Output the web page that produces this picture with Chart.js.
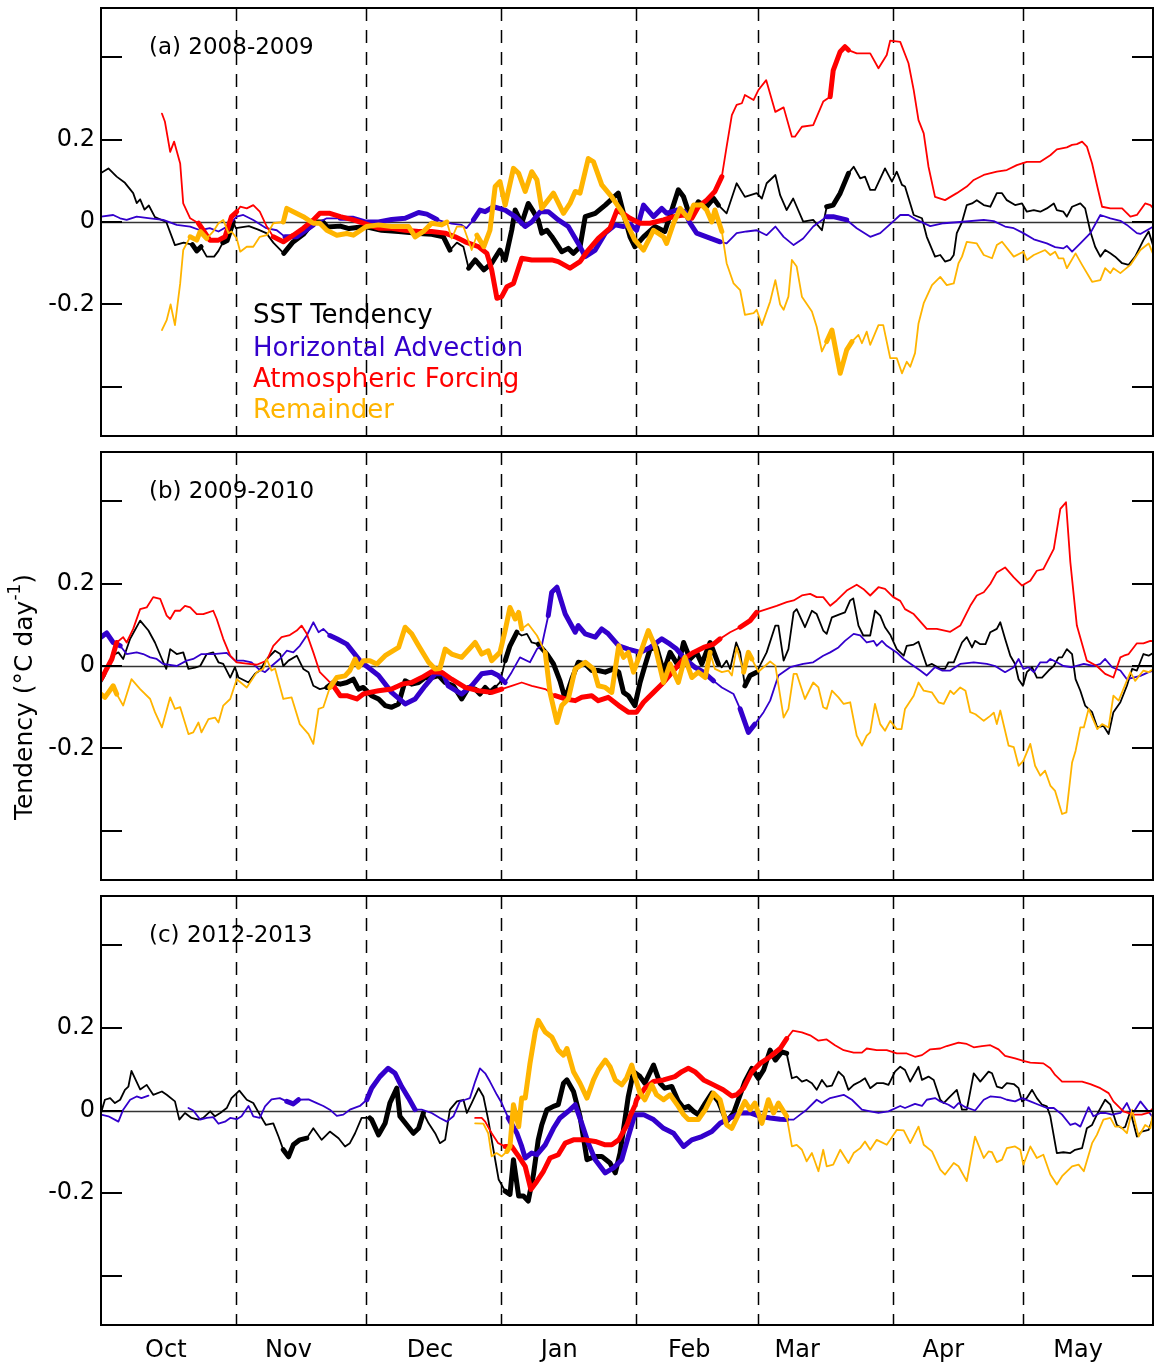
<!DOCTYPE html>
<html>
<head>
<meta charset="utf-8">
<script src="https://cdn.jsdelivr.net/npm/chart.js@4/dist/chart.umd.min.js"></script>
<style>
  body { margin: 0; background: #fff; }
  #wrap { position: relative; width: 1154px; height: 1369px; }
  canvas { position: absolute; left: 0; }
</style>
</head>
<body>
<div id="wrap">
  <canvas id="panelA" width="1154" height="444" style="top:0px"></canvas>
  <canvas id="panelB" width="1154" height="444" style="top:444px"></canvas>
  <canvas id="panelC" width="1154" height="481" style="top:888px"></canvas>
</div>
<script>
// days counted from 1 October, values in degC/day
const monthNames = ['Oct', 'Nov', 'Dec', 'Jan', 'Feb', 'Mar', 'Apr', 'May']
const monthLabelDays = [14.9, 43.1, 75.6, 105.3, 135.2, 160, 193.6, 224.6]
const monthStartDays = [31, 61, 92, 123, 151, 182, 212]
const yTickValues = [-0.4, -0.2, 0, 0.2, 0.4]
const seriesNames = ['SST Tendency', 'Horizontal Advection', 'Atmospheric Forcing', 'Remainder']

// ---- 2008-2009 ----
const sstA = [[0,.119],[1.7,.13],[3.6,.11],[5.5,.095],[7.4,.07],[8.2,.046],[9,.055],[10,.03],[11,.04],[12.4,.012],[15,0],[17,-.056],[19,-.05],[21,-.055],[22,-.07],[23,-.06],[24.3,-.084],[26,-.084],[27,-.07],[28,-.05],[29,-.045],[30.4,0],[31,-.015],[34,-.01],[36,-.018],[38,-.027],[39.6,-.05],[42,-.076],[44,-.05],[46.5,-.03],[48.8,0],[51,0],[52,-.012],[55,-.01],[57,-.016],[60.7,-.011],[64.5,-.02],[68.4,-.023],[72.2,-.027],[76,-.03],[78.7,-.036],[80.2,-.068],[81.8,-.05],[83.3,-.06],[84.5,-.112],[86,-.092],[88,-.116],[89.8,-.1],[91.7,-.068],[92.9,-.092],[94.4,-.02],[95.2,.029],[96.7,-.003],[98.2,.045],[99.4,.025],[100.5,.005],[101.3,-.027],[102.5,-.02],[103.6,-.035],[105.9,-.072],[107.4,-.064],[108.6,-.076],[110.1,-.06],[111.3,.013],[113.6,.021],[115.9,.041],[118.9,.07],[120.1,.021],[121.6,-.036],[122.7,-.06],[124.7,-.036],[127.3,-.011],[129.6,-.023],[131.2,.029],[132.7,.078],[133.9,.061],[135.4,.013],[137.3,.049],[139.2,.037],[140.8,.057],[141.9,.041],[143.8,.021],[146.1,.094],[148,.061],[150.7,.07],[151.9,.057],[153,.094],[155,.114],[156.1,.065],[157.6,.029],[159.1,.057],[161.4,.001],[163.7,.005],[165.7,-.02],[166.8,.037],[168.3,.041],[169.9,.07],[171.8,.118],[173,.134],[174.5,.106],[175.6,.11],[176.8,.078],[177.9,.078],[180.2,.13],[181.8,.098],[182.9,.122],[184.1,.09],[184.8,.086],[186.8,.017],[188.7,.009],[189.8,-.036],[191.7,-.084],[192.9,-.08],[194,-.096],[195.2,-.092],[196,-.08],[196.7,-.027],[197.9,0],[199,.041],[200.2,.045],[201.3,.053],[202.9,.041],[204.4,.037],[205.9,.07],[207.1,.07],[208.2,.053],[210.1,.041],[211.7,.045],[212.8,.025],[214.4,.029],[215.9,.025],[217.4,.033],[219,.045],[219.7,.029],[221.2,.025],[222,.013],[223.2,.037],[225.1,.045],[226.2,.033],[227.4,-.023],[228.5,-.06],[229.7,-.084],[230.8,-.068],[232,-.076],[233.1,-.084],[234.7,-.1],[236.2,-.104],[237.7,-.084],[239.6,-.044],[240.8,-.023],[241.9,-.06]]
const advA = [[0,.013],[2.8,.017],[4.4,.009],[5.9,.005],[8.2,.013],[11.3,.009],[14.3,.005],[17.4,-.007],[20.5,-.011],[22.8,-.02],[25,-.015],[27,-.023],[29,-.011],[31.2,.013],[32.7,.017],[35,.005],[38,-.015],[40.4,-.02],[42.3,-.036],[45,-.036],[48.8,-.007],[51.9,.009],[55,.009],[58,.009],[60.7,0],[63.8,0],[66.8,.006],[69.9,.009],[73,.023],[74.9,.019],[77.2,.006],[79.1,0],[80.6,-.004],[82.9,-.007],[84,-.015],[85.6,.005],[87.1,.029],[88.3,.025],[90.2,.037],[92.9,.029],[95.2,.013],[97.5,-.011],[99,0],[101,.025],[102.8,.025],[105.1,.005],[107.4,-.011],[109.7,-.052],[111.3,-.084],[113.6,-.068],[115.9,-.027],[118.2,-.007],[120.1,-.011],[121.6,-.005],[123.1,-.02],[124.7,.041],[127,.013],[128.9,.033],[130,.021],[132.3,.029],[134.2,.025],[135.4,-.003],[136.9,-.027],[139.2,-.036],[142.3,-.048],[143.8,-.052],[146.1,-.027],[148.4,-.023],[150.7,-.02],[153,-.032],[155,-.011],[156.9,-.036],[159.2,-.056],[161.4,-.04],[163.7,-.011],[166.8,.013],[168.3,.013],[171.4,.005],[173.7,-.015],[176.8,-.036],[179.1,-.027],[181.4,-.005],[183.7,.017],[185.6,.017],[187.5,.005],[190.6,-.01],[193.7,-.003],[197.5,0],[202.9,.005],[205.2,.002],[207.8,-.011],[209.8,-.015],[212,-.027],[214.4,-.042],[217.4,-.052],[219.3,-.061],[221.2,-.064],[222,-.058],[223.2,-.072],[225.1,-.052],[227.4,-.027],[229.7,.017],[232,.009],[234.3,.003],[235.8,-.007],[238.1,-.027],[238.9,-.029],[240.4,-.02],[241.9,-.011]]
const atmA = [[14,.263],[14.7,.243],[15.9,.17],[16.8,.195],[18.2,.142],[18.9,.045],[20.5,.009],[22.4,-.003],[23.5,-.02],[25,-.044],[27,-.044],[28.5,-.036],[30,.013],[31.2,.025],[32,.037],[33.5,.033],[35,.041],[36.5,.025],[38.1,-.011],[39.6,-.036],[41.9,-.048],[44.2,-.032],[46.5,-.015],[48.8,.005],[50.3,.021],[52.6,.021],[55,.013],[58,.005],[61,-.005],[63.8,-.015],[66.8,-.015],[69.9,-.02],[73,-.023],[76,-.023],[79.1,-.027],[81.4,-.036],[83.7,-.048],[86.8,-.06],[88.7,-.076],[89.8,-.116],[91,-.185],[92.1,-.181],[93.3,-.157],[94.8,-.149],[96.7,-.088],[99,-.092],[101.3,-.092],[103.6,-.092],[105.1,-.096],[107.8,-.112],[110.1,-.096],[112,-.068],[114.3,-.04],[117,-.015],[118.6,.029],[120.5,.017],[121.6,.009],[123.9,-.003],[126.2,-.003],[129.3,.005],[131.6,.013],[133.9,.017],[135.8,.009],[137.3,.037],[139.2,.053],[141.1,.074],[142.7,.11],[143.8,.183],[145,.259],[146.1,.284],[147.3,.288],[148,.308],[150,.296],[151.1,.32],[152.9,.344],[155,.267],[156.9,.278],[158.8,.207],[159.5,.207],[161.1,.231],[163.7,.235],[166,.292],[167.6,.304],[168.3,.368],[169.9,.413],[171,.425],[171.8,.417],[173.7,.409],[176.8,.409],[178.7,.373],[180.6,.405],[181.4,.44],[183.7,.437],[185.6,.385],[186.8,.32],[187.9,.247],[189.1,.215],[190.2,.134],[191.7,.061],[194,.053],[196.7,.07],[199,.086],[200.6,.102],[202.9,.114],[205.9,.122],[208.2,.126],[210.5,.138],[212.8,.146],[215.9,.146],[218.2,.162],[219.7,.176],[222,.181],[223.2,.187],[224.3,.189],[225.5,.195],[226.6,.183],[227.8,.142],[229,.086],[230.1,.037],[232,.033],[234.7,.033],[236.6,.013],[238.1,.017],[240,.045],[241.2,.041],[241.9,.033]]
const remA = [[14,-.262],[15.1,-.238],[16,-.2],[17,-.25],[18.2,-.149],[18.9,-.068],[20.5,-.036],[22,-.044],[22.8,-.023],[24.3,-.04],[25.8,-.023],[27,-.003],[28.1,.005],[29.3,-.027],[30,-.023],[31.2,-.04],[32,-.072],[33.5,-.06],[35,-.06],[36.5,-.036],[38.1,-.032],[39.6,-.003],[41.9,0],[42.7,.033],[44.2,.025],[46.5,.013],[48.8,-.003],[50.3,-.003],[51.9,-.02],[54.2,-.032],[56.5,-.028],[58,-.032],[61,-.011],[63.8,-.007],[66.8,-.011],[70.7,-.011],[72.2,-.036],[74.1,-.023],[76,-.003],[78.3,-.007],[79.5,0],[80.6,-.04],[81.8,-.011],[83.3,-.011],[85.2,-.068],[86.4,-.032],[88,-.06],[89.4,-.02],[90.6,.086],[91.7,.098],[92.9,.041],[94.8,.13],[96,.118],[97.5,.074],[99,.122],[100.2,.102],[101.3,.033],[104,.07],[106.3,.021],[107.8,.045],[109,.074],[110.1,.07],[112,.154],[113.2,.146],[115.1,.09],[117.4,.061],[119.7,.025],[121.2,-.011],[122.7,-.044],[124.7,-.068],[127,-.02],[129.3,-.036],[130,-.052],[131.6,-.003],[133.1,.033],[135,.009],[136.2,.041],[138.1,.041],[139.2,.029],[140.4,0],[141.1,.029],[142.7,-.023],[143.8,-.1],[145.4,-.149],[146.9,-.165],[148,-.225],[150,-.221],[150.7,-.213],[151.9,-.25],[153.8,-.193],[155,-.141],[156.1,-.2],[156.9,-.213],[158,-.181],[158.8,-.092],[159.9,-.108],[161.1,-.181],[163.4,-.217],[164.5,-.254],[165.7,-.314],[166.8,-.29],[168,-.262],[169.9,-.367],[171.4,-.31],[172.6,-.29],[174.1,-.274],[174.9,-.294],[176,-.266],[176.8,-.298],[178.7,-.25],[179.8,-.25],[181.4,-.33],[182.9,-.33],[184.1,-.367],[185.2,-.339],[186,-.351],[187.1,-.318],[187.9,-.246],[189.1,-.197],[191,-.153],[192.9,-.133],[194.4,-.153],[196,-.149],[197.1,-.1],[197.9,-.084],[199,-.048],[201.3,-.052],[202.9,-.08],[204.8,-.088],[205.9,-.056],[207.1,-.048],[209.8,-.084],[212,-.072],[212.8,-.092],[214.4,-.08],[217,-.068],[218.2,-.08],[219.3,-.072],[220.1,-.088],[221.2,-.088],[222,-.112],[224,-.076],[225.5,-.104],[227.8,-.145],[229.7,-.141],[230.8,-.112],[232,-.124],[232.7,-.112],[234.3,-.124],[236.6,-.104],[238.9,-.068],[240.8,-.052],[241.9,-.08]]

// ---- 2009-2010 ----
const sstB = [[0,-.04],[0.9,-.023],[2.5,.025],[4,.033],[5.1,.017],[6.7,.066],[9,.11],[10.9,.086],[12.4,.057],[14,.017],[15,-.007],[15.9,.041],[17.4,.029],[18.9,.033],[20.1,-.007],[21.6,-.004],[22.8,0],[24.3,.029],[25.8,.033],[27,.009],[28.1,.005],[29.7,-.028],[30.8,-.003],[31.6,-.028],[33.9,-.04],[35.4,-.019],[36.5,-.011],[38.1,.017],[40,.037],[41.2,.029],[41.9,0],[43.1,.013],[45,.025],[46.5,-.007],[47.7,-.015],[48.8,-.048],[50.3,-.056],[51.9,-.052],[53.4,-.04],[55,-.044],[56.5,-.04],[58,-.032],[59.2,-.056],[60.3,-.052],[62.2,-.072],[63.8,-.08],[65.3,-.096],[66.8,-.1],[68.4,-.092],[69.9,-.036],[71.4,-.044],[73,-.04],[74.5,-.028],[76,-.028],[77.6,-.023],[79.1,-.04],[81,-.048],[82.9,-.08],[84.5,-.052],[86,-.056],[87.1,-.068],[88.3,-.052],[89.4,-.064],[90.6,-.052],[91.7,-.04],[92.9,.013],[94,.049],[95.6,.082],[96.7,.074],[97.9,.078],[99,.057],[100.5,.053],[102.5,.029],[104,.005],[105.5,-.036],[106.7,-.08],[108.2,-.032],[109.7,.009],[111.3,.005],[112.8,-.011],[114.3,-.011],[115.9,-.015],[117.8,-.007],[119,-.015],[120.1,-.064],[121.2,-.072],[122.7,-.096],[123.9,-.04],[125,0],[126.2,.041],[127.7,.045],[129.3,-.015],[130.8,.033],[132.7,0],[133.9,.057],[135.4,.017],[136.9,.033],[138.1,.005],[140,.057],[141.9,.005],[142.7,-.003],[143.8,.013],[144.6,-.007],[146,.057],[146.9,.033],[148,-.048],[149.2,-.023],[150.7,-.015],[153,.033],[155,.098],[155.7,.098],[156.9,.013],[158,.041],[159.2,.13],[159.9,.138],[161.8,.094],[163.4,.134],[164.5,.126],[166,.086],[166.8,.078],[168,.118],[169.9,.126],[171,.13],[172.2,.159],[172.9,.164],[174.1,.098],[175.2,.074],[176.8,.074],[177.9,.134],[179.1,.122],[180.2,.094],[181.4,.076],[182.9,.041],[184.5,.025],[185.2,.049],[186.8,.052],[187.9,.059],[189.8,0],[191,.005],[192.9,-.007],[194,-.007],[194.8,.009],[196,.009],[197.9,.057],[199,.07],[200.2,.045],[200.9,.061],[202.1,.053],[203.3,.053],[204.4,.082],[205.9,.09],[206.7,.106],[207.8,.066],[209,.025],[210.1,.005],[210.9,-.032],[211.9,-.048],[212.8,-.015],[214,-.003],[215.1,-.028],[216.3,-.028],[217.8,-.011],[219,0],[220.1,.021],[220.9,.021],[222,.041],[223.2,.029],[224,-.032],[225.1,-.06],[226.2,-.096],[227.8,-.112],[229,-.149],[230.4,-.145],[231.6,-.165],[232.7,-.112],[234.3,-.088],[235.8,-.048],[237,-.007],[238.1,-.011],[239.6,.029],[240.8,.025],[241.9,.032]]
const advB = [[0,.07],[1.3,.08],[2.8,.057],[4.4,.049],[5.9,.029],[8.2,.033],[9.7,.029],[11.3,.021],[12.8,.017],[14.3,.005],[17.4,0],[19.7,.013],[21.2,.017],[23.1,.029],[25.8,.029],[28.9,.032],[30.8,.013],[32.7,.013],[34.6,.009],[36.2,-.007],[37.7,-.015],[39.2,0],[41.1,.017],[42.7,.037],[44.2,.033],[45.7,.049],[47.3,.074],[48.8,.106],[50,.082],[51.1,.09],[52.6,.074],[54.2,.066],[56.5,.053],[58,.033],[59.5,.013],[61,0],[63.8,-.023],[66.8,-.064],[69.9,-.092],[72.2,-.08],[74.5,-.048],[76.8,-.019],[78.7,-.019],[79.8,-.048],[82.9,-.068],[85.2,-.048],[87.5,-.019],[89.8,-.015],[91.3,-.023],[92.9,-.04],[94.4,-.015],[96.3,.021],[98.6,.009],[100.2,.041],[101.3,.049],[102.8,.122],[103.6,.179],[104.8,.191],[106.7,.126],[109,.082],[109.7,.098],[111.3,.078],[113.6,.07],[115.1,.09],[116.6,.078],[119,.049],[121.2,.041],[123.9,.033],[126.2,.045],[128.9,.066],[130.8,.053],[132.3,.041],[134.2,.017],[136.5,-.003],[138.5,-.015],[140.8,-.036],[142.7,-.052],[145.4,-.068],[146.9,-.104],[148.8,-.161],[150.3,-.141],[152.3,-.112],[153.8,-.084],[155.7,-.023],[158.4,-.003],[161.4,.005],[163.7,.009],[166,.025],[167.6,.033],[169.5,.045],[171,.061],[173,.078],[174.5,.074],[176,.057],[177.6,.061],[178.3,.049],[179.5,.061],[180.6,.049],[182.9,.033],[184.5,.017],[186.8,0],[188.3,-.011],[189.8,-.023],[191.7,-.003],[193.3,-.011],[195.2,-.011],[197.5,.005],[200.6,.009],[203.6,.005],[205.5,0],[207.8,-.015],[209.8,-.003],[210.9,.017],[212,-.007],[213.2,-.003],[214.4,-.015],[215.9,.009],[217.4,.009],[218.2,.017],[219.7,.009],[221.2,0],[223.2,-.003],[225.9,.005],[228.1,0],[229.7,.005],[230.8,.017],[232.4,-.003],[234.3,-.011],[235.8,-.032],[237.3,-.028],[238.9,-.024],[240.8,-.015],[241.9,-.011]]
const atmB = [[0,-.032],[0.9,-.015],[2.5,.017],[3.6,.057],[5.1,.07],[5.9,.057],[7.4,.09],[9,.138],[10.5,.142],[12,.167],[13.6,.163],[15.1,.122],[15.9,.114],[17,.134],[18.2,.134],[19.3,.146],[20.5,.142],[22,.126],[23.5,.126],[24.7,.13],[25.8,.134],[26.6,.114],[28.1,.066],[29.7,.025],[31.2,.009],[33.5,.006],[35.8,.003],[38.1,.013],[39.6,.049],[41.5,.07],[43.4,.075],[45,.086],[46.1,.098],[47.3,.078],[48.8,.033],[50.3,-.015],[51.9,-.032],[53.4,-.048],[55,-.072],[56.5,-.072],[58.8,-.08],[60.3,-.068],[61.8,-.064],[63.8,-.06],[66.8,-.056],[69.2,-.044],[71.4,-.04],[73.7,-.028],[76,-.014],[78.3,-.015],[80.6,-.032],[83.7,-.052],[86.8,-.06],[89.8,-.064],[92.1,-.056],[94.4,-.048],[96.7,-.04],[99,-.048],[102.1,-.056],[104.4,-.072],[106.7,-.08],[109,-.084],[110.5,-.076],[112.8,-.072],[114.3,-.084],[116.6,-.076],[119,-.096],[121.2,-.112],[123.1,-.112],[124.7,-.088],[127,-.064],[129.3,-.04],[131.6,-.011],[133.9,.017],[136.2,.033],[138.5,.045],[140.8,.053],[142.3,.066],[144.6,.082],[146.9,.094],[149.2,.11],[150.7,.13],[153,.138],[155.3,.146],[157.6,.155],[159.2,.159],[161.1,.171],[163,.175],[164.5,.167],[166,.167],[167.6,.146],[169.1,.159],[171.4,.183],[173.7,.197],[175.2,.187],[176.8,.171],[178.7,.191],[180.2,.187],[182.1,.167],[183.7,.158],[184.8,.138],[186.8,.126],[189.8,.09],[192.1,.09],[195.2,.083],[197.5,.098],[199.8,.146],[201.3,.171],[202.9,.179],[204.4,.199],[205.9,.227],[207.8,.239],[209.8,.215],[211.7,.195],[213.6,.207],[215.1,.231],[216.6,.235],[219,.284],[220.5,.381],[221.8,.397],[222.8,.252],[224.3,.098],[226.6,.013],[228.9,0],[230.8,-.019],[232.7,-.028],[234.3,.021],[235.1,.025],[236.2,.029],[238.1,.055],[239.6,.055],[241.2,.061],[241.9,.06]]
const remB = [[0,-.068],[0.9,-.076],[2.8,-.048],[3.6,-.068],[5.1,-.096],[7,-.032],[9,-.056],[11.3,-.08],[12.4,-.112],[14,-.149],[15.9,-.076],[17,-.104],[18.2,-.1],[20.1,-.165],[21.2,-.161],[22.4,-.137],[23.1,-.161],[24.7,-.129],[26.2,-.125],[27,-.137],[28.1,-.096],[29.7,-.08],[31.2,-.032],[33.5,-.052],[35.8,-.015],[37.3,-.007],[38.1,.017],[39.2,-.011],[40,-.006],[41.9,-.08],[43.8,-.076],[45.7,-.141],[47.7,-.165],[48.8,-.189],[50,-.104],[51.1,-.1],[52.6,-.052],[54.2,-.028],[56.1,-.024],[57.2,-.011],[58.4,.017],[59.2,-.003],[60.3,.013],[61.8,.013],[63.4,.005],[65.3,.025],[68.4,.045],[69.9,.094],[71.4,.078],[73,.049],[75.3,.009],[76.8,-.007],[77.9,-.006],[79.1,.041],[80.6,.029],[82.9,.021],[86,.057],[87.5,.029],[89,.037],[89.8,.013],[91.7,.033],[92.9,.086],[94,.142],[95.2,.114],[96,.13],[96.7,.09],[98.2,.102],[100.2,.074],[102.1,.033],[103.2,-.064],[104.8,-.137],[105.9,-.096],[107.4,-.08],[109,-.007],[111.3,.009],[113.2,-.007],[114.3,-.048],[115.9,-.052],[117.4,-.064],[119,.049],[120.1,.021],[121.2,.033],[122.4,-.015],[124.3,.041],[125.8,.086],[127.3,.049],[129.3,-.04],[130.8,.005],[132.7,-.04],[134.2,.021],[135.8,-.028],[137.3,-.015],[138.9,-.028],[140,.033],[141.1,-.007],[142.7,-.015],[144.2,-.011],[145,-.023],[146.1,.045],[147.7,-.015],[148.8,.033],[149.6,.017],[151.1,-.014],[153.8,.011],[155,.001],[156.9,-.125],[158,-.104],[159.2,-.019],[159.9,-.019],[161.8,-.08],[163.7,-.04],[164.9,-.052],[166,-.1],[166.8,-.104],[168,-.06],[169.5,-.076],[170.7,-.092],[172.2,-.088],[173.7,-.169],[174.9,-.193],[176,-.169],[176.8,-.161],[177.9,-.092],[179.1,-.141],[180.2,-.157],[181.4,-.133],[182.9,-.153],[184,-.153],[184.8,-.104],[186.8,-.072],[187.9,-.04],[189.1,-.06],[191,-.064],[192.5,-.088],[193.7,-.092],[195.2,-.06],[196,-.068],[197.5,-.052],[198.7,-.06],[199.8,-.112],[201,-.117],[202.9,-.133],[204.4,-.121],[205.2,-.113],[205.9,-.141],[206.7,-.108],[208.6,-.193],[209.8,-.197],[210.9,-.242],[212,-.23],[213.6,-.189],[214.7,-.242],[215.9,-.266],[217,-.254],[218.2,-.29],[219.3,-.303],[220.9,-.359],[221.9,-.355],[223.2,-.234],[224,-.206],[225.1,-.149],[225.9,-.149],[227,-.104],[229,-.153],[230.1,-.141],[231.6,-.149],[232.7,-.072],[233.9,-.084],[236.6,-.015],[237.7,-.036],[239.6,-.011],[240.8,-.015],[241.9,-.007]]

// ---- 2012-2013 ----
const sstC = [[0,-.006],[0.9,.026],[2.1,.03],[3.2,.018],[4.4,.026],[5.5,.05],[6.3,.058],[7,.096],[9,.051],[10.5,.062],[12,.038],[14,.046],[15.1,.038],[17,.022],[18,-.022],[19.3,-.006],[20.8,-.018],[22.4,-.022],[23.5,-.018],[25.1,-.002],[26.2,-.014],[27.4,-.006],[28.9,.006],[30,.03],[31.8,.048],[33.5,.026],[35,.018],[36.5,-.01],[37.9,-.035],[39.6,-.031],[40.8,-.063],[41.9,-.095],[43.1,-.112],[44.2,-.083],[45.7,-.071],[47.3,-.067],[48.8,-.043],[50.7,-.071],[52.6,-.051],[54.6,-.067],[56.1,-.087],[57.2,-.079],[58.4,-.055],[59.9,-.018],[61.8,-.018],[62.2,-.022],[63.8,-.059],[65.3,-.031],[66.4,.018],[68,.054],[68.7,-.014],[70.3,-.035],[71.8,-.055],[73,-.043],[74.1,-.006],[75.3,-.031],[76.8,-.055],[77.9,-.079],[79.1,-.071],[80.2,.002],[81.8,.022],[83.3,.026],[84.1,-.006],[85.2,.018],[86.8,.054],[87.9,.034],[89,-.022],[90.2,-.095],[91.4,-.167],[92.9,-.195],[94,-.203],[94.8,-.119],[96,-.207],[97.1,-.207],[98.2,-.219],[99.4,-.155],[100.5,-.071],[101.3,-.035],[102.5,.002],[104,.01],[105.1,.014],[106.3,.066],[107.1,.074],[108.6,.046],[110.1,-.014],[111.7,-.119],[113.6,-.111],[115.1,-.111],[117,-.127],[118.2,-.151],[119.3,-.103],[121.2,.034],[122.4,.094],[123.9,.082],[125,.066],[127,.11],[128.5,.066],[129.6,.054],[131.2,.058],[132.7,.022],[133.9,.006],[135,.01],[136.2,-.002],[137.3,-.01],[138.9,.018],[140.4,.042],[141.9,.022],[143.8,-.027],[145.4,-.006],[146.5,.026],[148,.07],[149.6,.102],[151.1,.078],[152.3,.098],[153.8,.146],[155,.122],[156.5,.142],[157.6,.138],[158.8,.078],[159.9,.082],[161.1,.07],[162.2,.074],[163.4,.066],[164.5,.05],[165.7,.074],[166.8,.058],[168,.06],[169.5,.094],[170.7,.082],[171.8,.05],[173,.062],[174.5,.07],[175.6,.078],[176.8,.054],[178.3,.066],[179.8,.066],[181,.062],[182.5,.094],[183.7,.106],[184.8,.098],[186,.07],[187.9,.106],[188.7,.074],[190.2,.082],[191.4,.074],[192.9,.026],[193.7,.018],[194.8,.03],[196.7,.05],[197.9,.002],[199,.002],[200.6,.09],[202.1,.07],[204,.094],[204.8,.09],[205.9,.058],[207.1,.054],[208.2,.066],[209.8,.064],[210.9,.054],[211.7,.022],[212.8,.03],[214,.05],[215.1,.03],[216.3,.014],[217.4,.01],[218.2,-.014],[219.7,-.103],[221.2,-.101],[222.8,-.103],[223.9,-.095],[225.5,-.091],[226.6,-.043],[227.8,-.035],[228.9,-.01],[230.8,.026],[232,.014],[233.5,-.035],[234.7,-.043],[235.4,-.04],[236.6,-.002],[238.1,-.063],[239.2,-.051],[240.8,-.047],[241.9,-.014]]
const advC = [[0,-.01],[1.7,-.014],[4,-.027],[5.1,.002],[6.7,.026],[8.2,.034],[9.3,.03],[10.9,.036],[15,null],[20.1,.006],[21.2,0],[22.8,-.022],[24.3,-.018],[25.8,-.016],[27,-.032],[28.5,-.027],[29.7,-.018],[31.2,-.021],[32.3,-.014],[33.9,.011],[35,-.014],[36.5,-.018],[37.7,.01],[39.2,.027],[41.1,.03],[42.7,.022],[44.2,.016],[45.4,.026],[47.7,.027],[49.6,.018],[51.1,.011],[52.6,.002],[54.2,-.013],[55.7,-.01],[57.2,.002],[59.5,.011],[61.1,.026],[62.2,.054],[64.1,.082],[66,.102],[67.6,.09],[69.1,.058],[70.7,.03],[72.2,.002],[73.7,.002],[76,-.006],[77.9,-.018],[79.5,-.027],[81,-.014],[82.5,.022],[83.7,.026],[84.8,.03],[86,.07],[87.1,.102],[88.3,.09],[89.4,.07],[91,.038],[92.1,.018],[93.6,-.018],[95.6,-.055],[96.7,-.087],[97.5,-.115],[99,-.103],[100.2,-.107],[102.1,-.083],[104,-.043],[105.5,-.018],[107.4,-.002],[109,.014],[110.5,-.031],[112,-.079],[113.6,-.119],[115.9,-.151],[117.8,-.139],[119.7,-.119],[121.2,-.063],[122.7,-.01],[124.7,-.01],[127,-.022],[129.3,-.043],[131.6,-.055],[133.9,-.087],[135.8,-.071],[138.1,-.063],[140.4,-.051],[142.3,-.031],[144.6,-.018],[146.9,-.006],[149.2,-.006],[151.5,-.014],[153.8,-.018],[156.1,-.021],[157.6,-.022],[159.2,-.022],[160.7,-.01],[162.2,.002],[164.5,.026],[165.7,.018],[167.6,.03],[170.7,.038],[172.6,.026],[174.9,.002],[176.8,-.002],[178.7,-.006],[181,-.002],[183.7,.011],[184.8,.006],[187.1,.016],[188.7,.011],[189.8,.026],[191.7,.03],[192.9,.022],[194.8,.014],[196,.006],[197.1,.018],[198.7,.008],[200.9,0],[202.9,.026],[204.4,.034],[206.7,.032],[208.2,.026],[210.1,.022],[211.7,.03],[213.6,.022],[215.5,.014],[217.4,.006],[219,.006],[220.9,-.01],[222.8,-.035],[223.9,-.031],[225.1,-.039],[227,.008],[228.1,-.014],[229.7,-.006],[230.8,-.006],[232.4,-.01],[234.3,-.006],[235.8,.018],[237,-.01],[238.9,.022],[240.4,.002],[241.9,-.018]]
const atmC = [[86,-.018],[87.5,-.018],[88.3,-.027],[89.8,-.055],[91.3,-.079],[92.9,-.087],[94.4,-.087],[96,-.111],[97.5,-.135],[98.8,-.191],[100.2,-.171],[101.7,-.147],[103.2,-.115],[105.1,-.107],[106.7,-.079],[108.6,-.071],[111.3,-.071],[113.6,-.075],[115.9,-.083],[117.4,-.083],[119,-.071],[120.9,-.035],[121.6,-.014],[122.8,.014],[123.1,.026],[125,.054],[127,.07],[129.3,.074],[131.9,.082],[133.5,.094],[135,.102],[136.5,.094],[138.5,.074],[140.8,.062],[143,.05],[145,.035],[146.1,.038],[147.7,.054],[149.6,.094],[151.5,.114],[153.8,.13],[156.1,.15],[157.6,.174],[159,.193],[161.1,.189],[163,.182],[164.9,.169],[166.8,.172],[168.7,.158],[170.7,.146],[173,.14],[174.9,.14],[176,.15],[178.3,.146],[180.6,.146],[182.9,.138],[185.2,.138],[187.1,.13],[188.7,.134],[190.6,.148],[192.9,.15],[194.4,.156],[197.1,.164],[199,.161],[200.6,.153],[202.5,.156],[204.4,.158],[206.3,.148],[207.8,.132],[210.1,.126],[212,.12],[213.6,.116],[216.6,.114],[218.2,.102],[219.3,.086],[220.9,.07],[223.2,.07],[225.5,.07],[227.4,.064],[229.7,.054],[231.6,.042],[232.7,.022],[235,-.002],[237.3,-.01],[239.2,-.01],[240.8,-.005],[241.9,.006]]
const remC = [[86,-.031],[87.9,-.032],[89,-.055],[89.8,-.111],[90.9,-.103],[92.1,-.111],[93.3,-.099],[94,-.087],[94.8,.014],[96,-.039],[96.7,.03],[97.5,.03],[98.6,.114],[99.8,.19],[100.5,.218],[102.1,.19],[103.6,.178],[105.1,.146],[106.3,.134],[107.1,.15],[108.6,.094],[110.1,.066],[111.7,.03],[113.2,.074],[114.3,.098],[115.9,.122],[117,.106],[118.2,.074],[119.7,.062],[120.8,.078],[122,.11],[122.7,.082],[123.9,.042],[125,.026],[126.6,.062],[127.7,.038],[129.3,.026],[130.8,.038],[132.7,.01],[133.9,-.01],[135,-.022],[137.3,-.022],[138.9,.002],[140.8,.042],[142.3,.026],[143.8,-.035],[145,-.043],[146.5,-.01],[148,.022],[149.2,.002],[150.3,.018],[151.9,-.031],[153.4,.026],[154.6,-.006],[155.7,.018],[157.6,-.014],[158.8,-.087],[159.9,-.083],[161.1,-.095],[162.2,-.123],[163.4,-.103],[164.9,-.147],[166,-.095],[166.8,-.135],[168.3,-.131],[169.9,-.095],[171.8,-.127],[173,-.103],[174.5,-.091],[175.6,-.075],[176.8,-.095],[178.3,-.071],[180.6,-.083],[181.4,-.071],[182.9,-.047],[184.5,-.048],[186,-.079],[187.9,-.039],[189.1,-.083],[191,-.099],[192.9,-.143],[194,-.155],[196,-.127],[197.1,-.135],[199,-.171],[200.9,-.063],[202.9,-.115],[204,-.099],[204.8,-.101],[205.9,-.125],[207.1,-.119],[208.2,-.091],[210.1,-.087],[211.3,-.095],[212,-.131],[213.6,-.087],[215.1,-.115],[216.6,-.107],[218.2,-.155],[219.7,-.179],[220.9,-.159],[223.2,-.135],[224.7,-.131],[225.9,-.147],[227.8,-.079],[228.9,-.059],[230.4,-.022],[232,-.018],[233.1,-.039],[234.3,-.039],[235.8,-.055],[237,.002],[238.5,-.063],[240,-.035],[241.2,-.043],[241.9,.002]]

// periods (in days) where each term is significant: drawn bold
const sstA_bold = [[21,23.5],[28.5,30],[42,80],[84,142.5],[166.8,172]]
const advA_bold = [[42,47],[55,78],[85,143],[166.8,172]]
const atmA_bold = [[22,31],[39,143],[167,172]]
const remA_bold = [[21,25],[42,80],[86,143],[167,172]]
const sstB_bold = [[52,90],[93,96],[101,141],[147.7,150]]
const advB_bold = [[0,4.5],[52,93],[102.5,141.5],[147.7,150]]
const atmB_bold = [[0,4],[53,91.3],[103.6,142],[148,150]]
const remB_bold = [[0,4],[52,97],[102.5,140.5],[147.7,150]]
const sstC_bold = [[42,46.5],[61,73.7],[92.9,157.6]]
const advC_bold = [[42,46],[61,72.2],[92.9,157.6]]
const atmC_bold = [[93,157.6]]
const remC_bold = [[93.6,157.6]]

const colors = ['#000000', '#3300cc', '#ff0000', '#ffb400']
const FONT = '"DejaVu Sans", sans-serif'
Chart.defaults.font.family = FONT

function inBold(ranges, a, b) {
    const mid = (a + b) / 2
    return ranges.some(r => mid >= r[0] && mid <= r[1])
}

const panelDecor = {
    id: 'panelDecor',
    beforeDatasetsDraw(chart) {
        const { ctx, chartArea: a, scales: { x, y } } = chart
        ctx.save()
        const y0 = Math.round(y.getPixelForValue(0)) + 0.5
        ctx.strokeStyle = '#333'
        ctx.lineWidth = 1.4
        ctx.beginPath()
        ctx.moveTo(a.left, y0)
        ctx.lineTo(a.right, y0)
        ctx.stroke()
        ctx.strokeStyle = '#000'
        ctx.lineWidth = 1.5
        ctx.setLineDash([13, 9])
        for (const d of monthStartDays) {
            const px = Math.round(x.getPixelForValue(d)) + 0.5
            ctx.beginPath()
            ctx.moveTo(px, a.top)
            ctx.lineTo(px, a.bottom)
            ctx.stroke()
        }
        ctx.restore()
    },
    afterDatasetsDraw(chart, args, opts) {
        const { ctx, chartArea: a, scales: { y } } = chart
        ctx.save()
        ctx.strokeStyle = '#000'
        ctx.lineWidth = 2
        ctx.strokeRect(a.left, a.top, a.right - a.left, a.bottom - a.top)
        for (const v of yTickValues) {
            const py = Math.round(y.getPixelForValue(v))
            ctx.beginPath()
            ctx.moveTo(a.left, py); ctx.lineTo(a.left + 21, py)
            ctx.moveTo(a.right - 21, py); ctx.lineTo(a.right, py)
            ctx.stroke()
        }
        ctx.fillStyle = '#000'
        ctx.textBaseline = 'middle'
        ctx.textAlign = 'left'
        ctx.font = '23px ' + FONT
        ctx.fillText(opts.title, 149, a.top + 40)

        if (opts.legend) {
            ctx.font = '26px ' + FONT
            const rows = [316, 349, 380, 411]
            seriesNames.forEach((name, i) => {
                ctx.fillStyle = colors[i]
                ctx.fillText(name, 253, rows[i])
            })
        }

        if (opts.yTitle) {
            ctx.translate(25, 253)
            ctx.rotate(-Math.PI / 2)
            ctx.fillStyle = '#000'
            const big = '25px ' + FONT, small = '17px ' + FONT
            const p1 = 'Tendency (\u00B0C day', p2 = '-1', p3 = ')'
            ctx.font = big
            const w1 = ctx.measureText(p1).width, w3 = ctx.measureText(p3).width
            ctx.font = small
            const w2 = ctx.measureText(p2).width
            let cx = -(w1 + w2 + w3) / 2
            ctx.font = big
            ctx.fillText(p1, cx, 0)
            cx += w1
            ctx.font = small
            ctx.fillText(p2, cx, -9)
            cx += w2
            ctx.font = big
            ctx.fillText(p3, cx, 0)
        }
        ctx.restore()
    }
}

// keep the plot box at a fixed size: no extra room for half tick labels
function noScalePadding(s) {
    s.paddingTop = 0
    s.paddingBottom = 0
    s.paddingLeft = 0
    s.paddingRight = 0
}

function makePanel(canvasId, series, bold, opts) {
    const datasets = series.map((s, i) => ({
        label: seriesNames[i],
        data: s.map(p => ({ x: p[0], y: p[1] })),
        borderColor: colors[i],
        borderWidth: 1.8,
        borderCapStyle: 'round',
        borderJoinStyle: 'round',
        pointRadius: 0,
        pointHitRadius: 0,
        tension: 0,
        spanGaps: false,
        order: 3 - i,
        segment: {
            borderWidth: ctx => inBold(bold[i], ctx.p0.parsed.x, ctx.p1.parsed.x) ? 5 : 1.8
        }
    }))

    const xScale = {
        type: 'linear',
        min: 0,
        max: 241.8,
        display: !!opts.months,
        grid: { display: false, drawTicks: false },
        border: { display: false }
    }
    if (opts.months) {
        xScale.afterBuildTicks = s => { s.ticks = monthLabelDays.map(v => ({ value: v })) }
        xScale.afterFit = s => { s.height = 44; noScalePadding(s) }
        xScale.ticks = {
            autoSkip: false,
            maxRotation: 0,
            padding: 11,
            color: '#000',
            font: { size: 24 },
            callback: (v, i) => monthNames[i]
        }
    }

    return new Chart(document.getElementById(canvasId), {
        type: 'line',
        data: { datasets },
        options: {
            responsive: false,
            animation: false,
            devicePixelRatio: 1,
            events: [],
            layout: { padding: { top: 8, right: 1, left: 0, bottom: opts.months ? 0 : 8 } },
            scales: {
                x: xScale,
                y: {
                    min: -0.519,
                    max: 0.519,
                    afterFit: s => { s.width = 101; noScalePadding(s) },
                    afterBuildTicks: s => { s.ticks = yTickValues.map(v => ({ value: v })) },
                    grid: { display: false, drawTicks: false },
                    border: { display: false },
                    ticks: {
                        padding: 6,
                        color: '#000',
                        font: { size: 24 },
                        callback: v => Math.abs(v) > 0.3 ? '' : (v === 0 ? '0' : v.toFixed(1))
                    }
                }
            },
            plugins: {
                legend: { display: false },
                tooltip: { enabled: false },
                panelDecor: opts
            }
        },
        plugins: [panelDecor]
    })
}

makePanel('panelA', [sstA, advA, atmA, remA], [sstA_bold, advA_bold, atmA_bold, remA_bold],
    { title: '(a) 2008-2009', legend: true })
makePanel('panelB', [sstB, advB, atmB, remB], [sstB_bold, advB_bold, atmB_bold, remB_bold],
    { title: '(b) 2009-2010', yTitle: true })
makePanel('panelC', [sstC, advC, atmC, remC], [sstC_bold, advC_bold, atmC_bold, remC_bold],
    { title: '(c) 2012-2013', months: true })
</script>
</body>
</html>
